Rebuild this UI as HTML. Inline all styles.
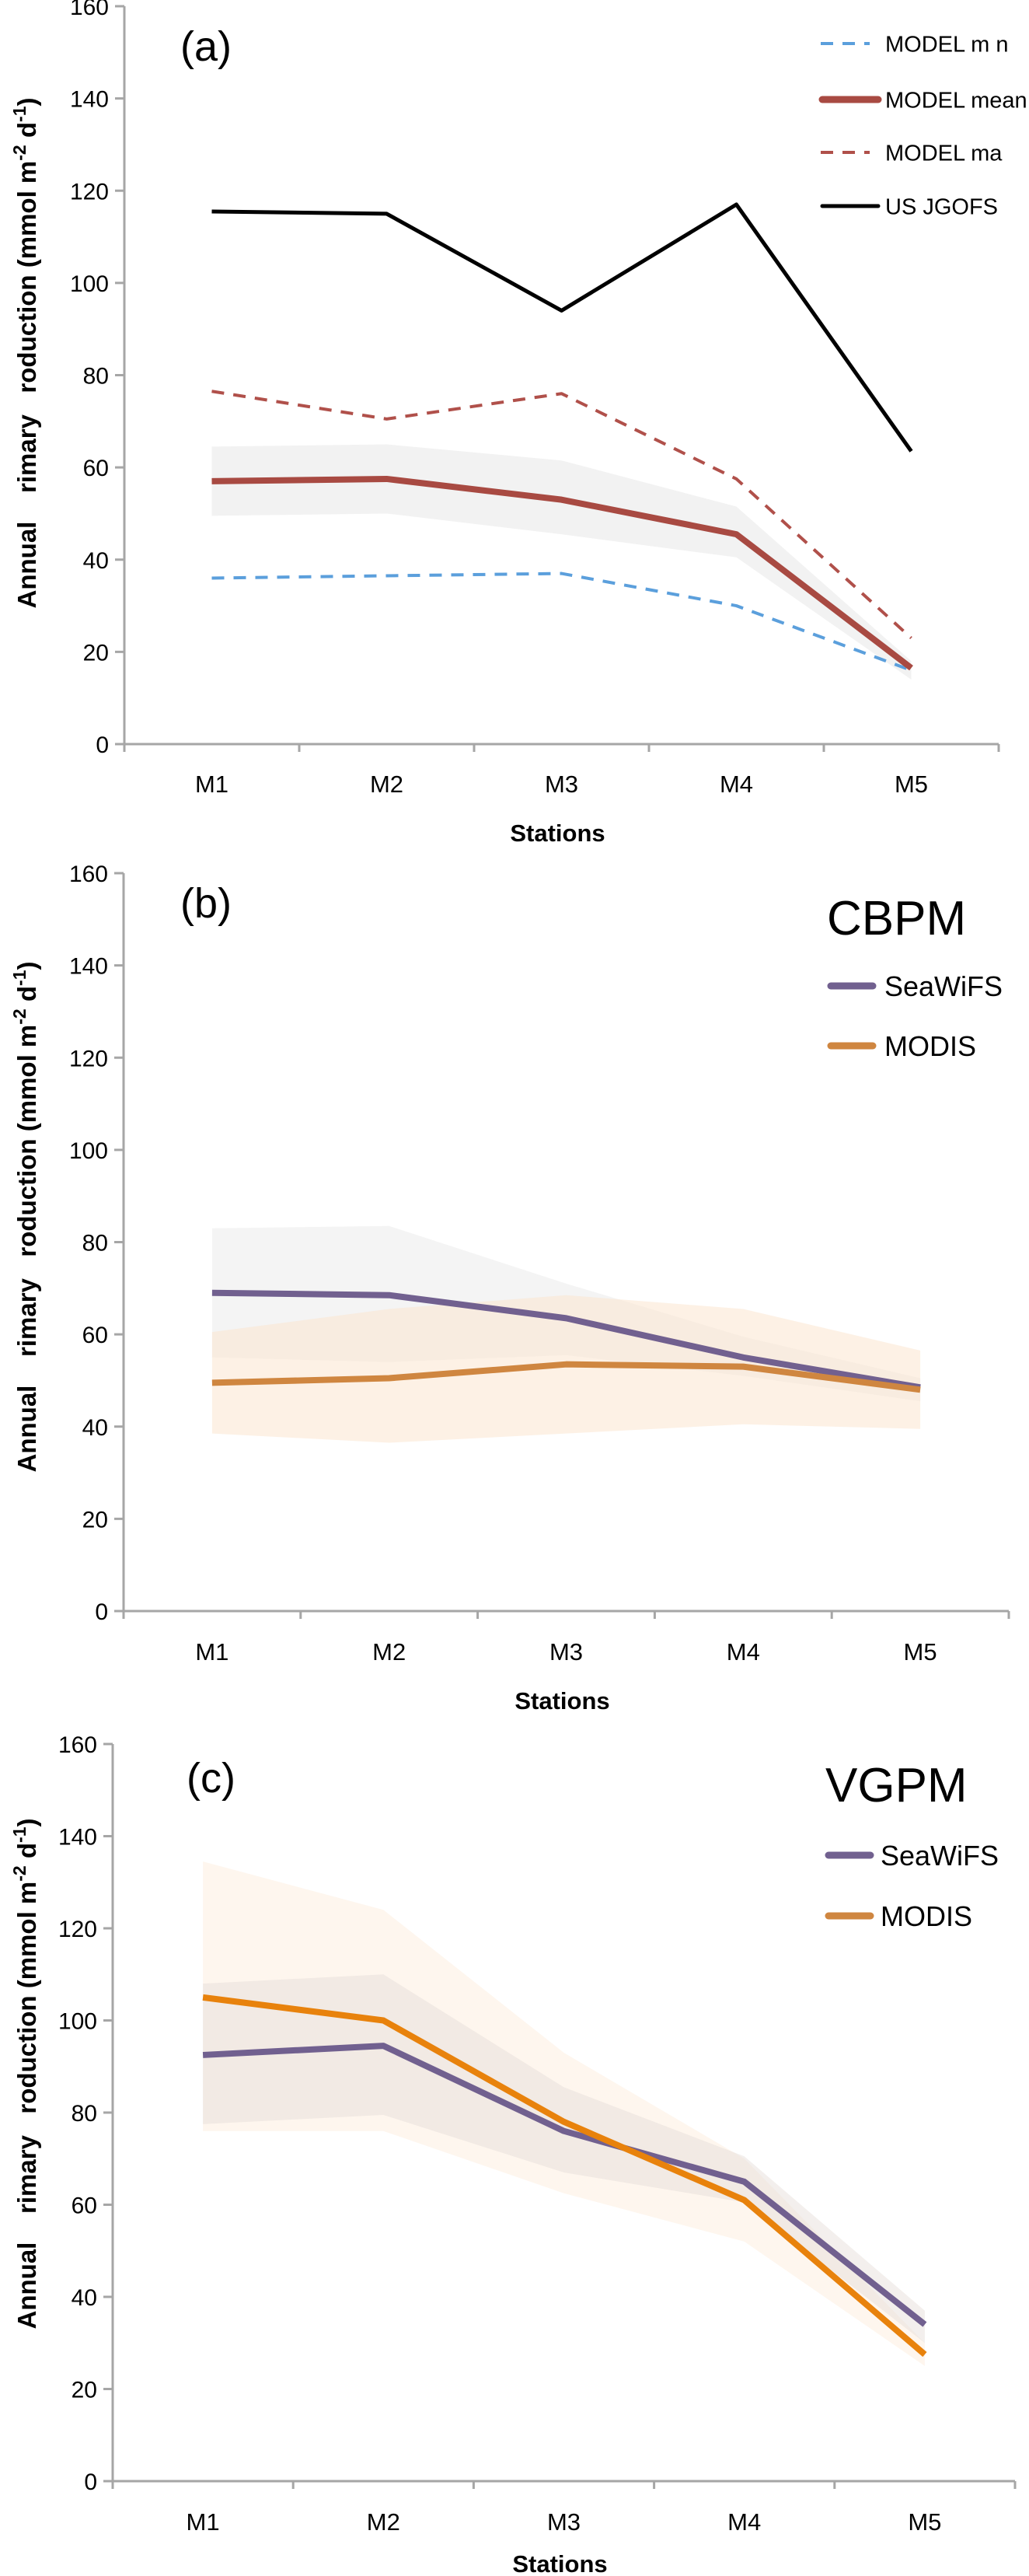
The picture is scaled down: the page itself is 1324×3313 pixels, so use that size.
<!DOCTYPE html>
<html><head><meta charset="utf-8"><style>
html,body{margin:0;padding:0;background:#fff}
svg{display:block}
text{font-family:"Liberation Sans",sans-serif}
</style></head><body>
<svg id="chart" width="1324" height="3313" viewBox="0 0 1324 3313" xmlns="http://www.w3.org/2000/svg"></svg>
<script>
const categories = ["M1","M2","M3","M4","M5"];
const yTicks = [0,20,40,60,80,100,120,140,160];
// Panel (a)
const aMin = [36,36.5,37,30,16];
const aMean = [57,57.5,53,45.5,16.5];
const aMax = [76.5,70.5,76,57.5,23];
const aJgofs = [115.5,115,94,117,63.5];
const aBandHi = [64.5,65,61.5,51.5,18];
const aBandLo = [49.5,50,45.5,40.5,14];
// Panel (b)
const bSea = [69,68.5,63.5,55,48.5];
const bSeaHi = [83,83.5,71,59.5,50.5];
const bSeaLo = [55,54,55.5,51,45.5];
const bMod = [49.5,50.5,53.5,53,48];
const bModHi = [60.5,65.5,68.5,65.5,56.5];
const bModLo = [38.5,36.5,38.5,40.5,39.5];
// Panel (c)
const cSea = [92.5,94.5,76,65,34];
const cSeaHi = [108,110,85.5,70.5,37];
const cSeaLo = [77.5,79.5,67,60.5,30];
const cMod = [105,100,78,61,27.5];
const cModHi = [134.5,124,93,70,30];
const cModLo = [76,76,62.5,52,25];

const NS="http://www.w3.org/2000/svg";
const svg=document.getElementById('chart');
function mk(tag,attrs,parent){const e=document.createElementNS(NS,tag);for(const k in attrs)e.setAttribute(k,attrs[k]);(parent||svg).appendChild(e);return e;}

function panel(p){
  const g=mk('g',{});
  
  
  const cw=(p.x1-p.x0)/categories.length;
  const X=i=>p.x0+cw*(i+0.5);
  const Y=v=>p.y0-(v/160)*(p.y0-p.ytop);
  p.bands.forEach(b=>{
    let d='M'+b.hi.map((v,i)=>X(i)+','+Y(v)).join(' L');
    for(let i=b.lo.length-1;i>=0;i--)d+=' L'+X(i)+','+Y(b.lo[i]);
    const e=mk('path',{d:d+'Z',fill:b.fill,'fill-opacity':b.op||1},g);
    
    
  });
  const ax=mk('g',{stroke:'#a6a6a6','stroke-width':3,fill:'none'},g);
  
  
  mk('line',{x1:p.x0,y1:p.ytop,x2:p.x0,y2:p.y0},ax);
  mk('line',{x1:p.x0-12,y1:p.y0,x2:p.x1,y2:p.y0},ax);
  for(let i=0;i<=categories.length;i++)mk('line',{x1:p.x0+cw*i,y1:p.y0,x2:p.x0+cw*i,y2:p.y0+10},ax);
  yTicks.forEach(v=>{
    mk('line',{x1:p.x0-12,y1:Y(v),x2:p.x0,y2:Y(v)},ax);
    const t=mk('text',{x:p.x0-20,y:Y(v)+11,'text-anchor':'end','font-size':30,fill:'#000'},g);
    t.textContent=v;
    
    
  });
  categories.forEach((c,i)=>{
    const t=mk('text',{x:X(i),y:p.labY+11,'text-anchor':'middle','font-size':31,fill:'#000'},g);
    t.textContent=c;
    
    
  });
  const st=mk('text',{x:(p.x0+p.x1)/2-5,y:p.stY+11,'text-anchor':'middle','font-size':31,'font-weight':'bold',fill:'#000'},g);
  st.textContent='Stations';
  
  
  const yt=mk('text',{x:0,y:0,'text-anchor':'middle','font-size':33,'font-weight':'bold',fill:'#000',style:'white-space:pre',transform:`translate(46,${p.ymid}) rotate(-90)`},g);
  yt.innerHTML='Annual    rimary   roduction (mmol m<tspan dy="-13" font-size="23">-2</tspan><tspan dy="13"> d</tspan><tspan dy="-13" font-size="23">-1</tspan><tspan dy="13">)</tspan>';
  
  
  const lt=mk('text',{x:p.lblX,y:p.lblY,'font-size':54,fill:'#000'},g);
  lt.textContent=p.label;
  
  
  p.series.forEach(s=>{
    const e=mk('polyline',{points:s.vals.map((v,i)=>X(i)+','+Y(v)).join(' '),fill:'none',stroke:s.color,'stroke-width':s.w,'stroke-dasharray':s.dash||'none','stroke-linejoin':'round'},g);
    
    
  });
  if(p.title){
    const t=mk('text',{x:p.title.x,y:p.title.y,'font-size':62,fill:'#000'},g);
    t.textContent=p.title.text;
    
    
  }
  p.legend.forEach(l=>{
    const lg=mk('g',{},g);
    
    
    mk('line',{x1:l.x,y1:l.y,x2:l.x+l.len,y2:l.y,stroke:l.color,'stroke-width':l.w,'stroke-dasharray':l.dash||'none','stroke-linecap':l.dash?'butt':'round'},lg);
    const t=mk('text',{x:l.tx,y:l.y+l.fs*0.36,'font-size':l.fs,fill:'#000'},lg);
    t.textContent=l.text;
  });
}

panel({id:'a',x0:160,x1:1285,ytop:8,y0:957,labY:1008,stY:1071,ymid:454,label:'(a)',lblX:232,lblY:78,
  bands:[{name:'model-range-band',hi:aBandHi,lo:aBandLo,fill:'#f2f2f2'}],
  series:[
    {name:'model-min-line',vals:aMin,color:'#5b9fdc',w:4,dash:'16 12'},
    {name:'model-max-line',vals:aMax,color:'#b0504a',w:4,dash:'16 12'},
    {name:'model-mean-line',vals:aMean,color:'#a84a42',w:8},
    {name:'us-jgofs-line',vals:aJgofs,color:'#000',w:5}],
  legend:[
    {x:1056,y:56,len:63,color:'#5b9fdc',w:4,dash:'16 12',text:'MODEL m n',tx:1139,fs:29},
    {x:1058,y:128,len:72,color:'#a84a42',w:9,text:'MODEL mean',tx:1139,fs:29},
    {x:1056,y:196,len:63,color:'#b0504a',w:4,dash:'16 12',text:'MODEL ma',tx:1139,fs:29},
    {x:1058,y:265,len:72,color:'#000',w:5,text:'US JGOFS',tx:1139,fs:29}]});

panel({id:'b',x0:159,x1:1298,ytop:1123,y0:2072,labY:2124,stY:2187,ymid:1565,label:'(b)',lblX:232,lblY:1180,
  title:{x:1064,y:1202,text:'CBPM'},
  bands:[{name:'seawifs-range-band',hi:bSeaHi,lo:bSeaLo,fill:'#ececec',op:0.6},
         {name:'modis-range-band',hi:bModHi,lo:bModLo,fill:'#fbe3cc',op:0.5}],
  series:[
    {name:'seawifs-line',vals:bSea,color:'#71608f',w:8},
    {name:'modis-line',vals:bMod,color:'#cf8640',w:8}],
  legend:[
    {x:1069,y:1268,len:54,color:'#71608f',w:9,text:'SeaWiFS',tx:1138,fs:36},
    {x:1069,y:1345,len:54,color:'#cf8640',w:9,text:'MODIS',tx:1138,fs:36}]});

panel({id:'c',x0:145,x1:1306,ytop:2243,y0:3191,labY:3243,stY:3297,ymid:2667,label:'(c)',lblX:240,lblY:2305,
  title:{x:1062,y:2317,text:'VGPM'},
  bands:[{name:'modis-range-band',hi:cModHi,lo:cModLo,fill:'#fdeee0',op:0.55},
         {name:'seawifs-range-band',hi:cSeaHi,lo:cSeaLo,fill:'#e4dcd8',op:0.45}],
  series:[
    {name:'seawifs-line',vals:cSea,color:'#71608f',w:8},
    {name:'modis-line',vals:cMod,color:'#e8820c',w:8}],
  legend:[
    {x:1066,y:2386,len:54,color:'#71608f',w:9,text:'SeaWiFS',tx:1133,fs:36},
    {x:1066,y:2464,len:54,color:'#cf8640',w:9,text:'MODIS',tx:1133,fs:36}]});
</script>
</body></html>
